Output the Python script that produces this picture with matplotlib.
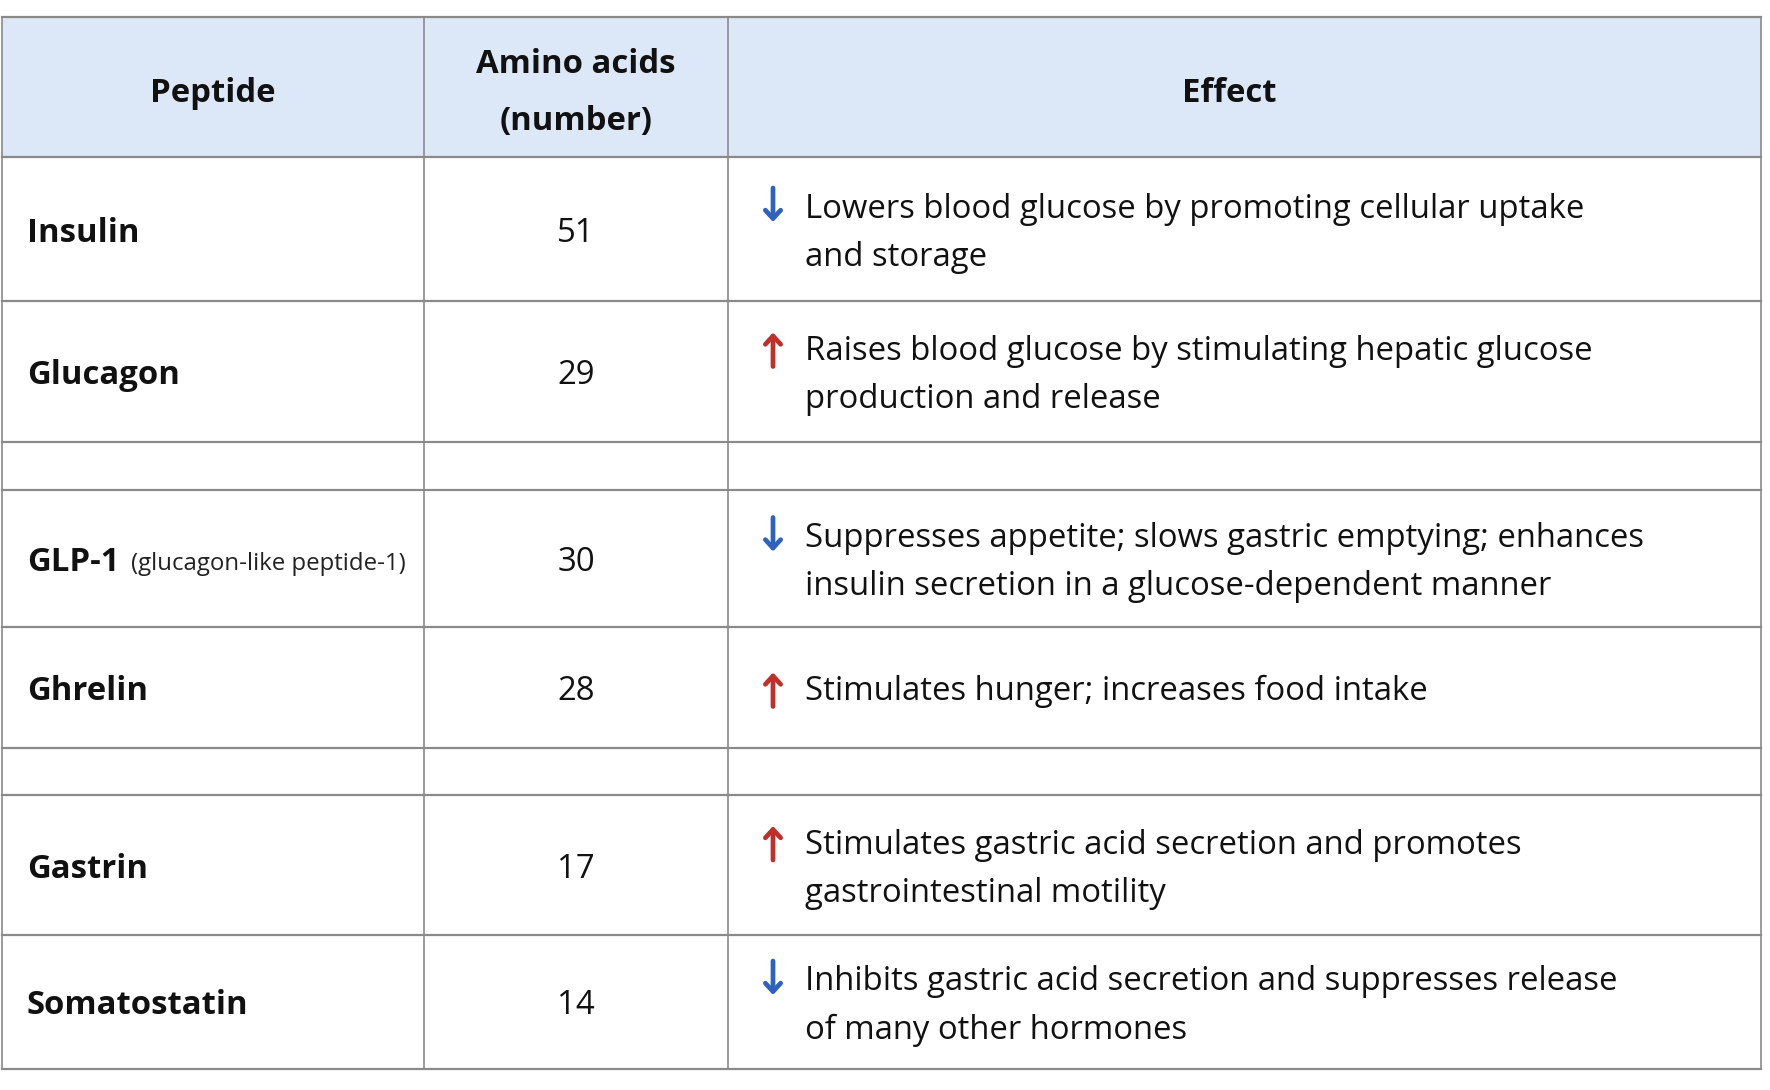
import matplotlib
matplotlib.use("Agg")
import matplotlib.pyplot as plt
from matplotlib.patches import Rectangle

plt.rcParams['font.family'] = ['Open Sans', 'DejaVu Sans']

# table content
headers = ["Peptide", "Amino acids\n(number)", "Effect"]
peptides = ["Insulin", "Glucagon", "", "GLP-1", "Ghrelin", "", "Gastrin", "Somatostatin"]
peptide_notes = ["", "", "", "(glucagon-like peptide-1)", "", "", "", ""]
amino_acids = ["51", "29", "", "30", "28", "", "17", "14"]
directions = ["down", "up", "", "down", "up", "", "up", "down"]
effects = [
    "Lowers blood glucose by promoting cellular uptake\nand storage",
    "Raises blood glucose by stimulating hepatic glucose\nproduction and release",
    "",
    "Suppresses appetite; slows gastric emptying; enhances\ninsulin secretion in a glucose-dependent manner",
    "Stimulates hunger; increases food intake",
    "",
    "Stimulates gastric acid secretion and promotes\ngastrointestinal motility",
    "Inhibits gastric acid secretion and suppresses release\nof many other hormones",
]

# layout (pixels)
W, H = 1770, 1090
col_x = [2, 424, 728, 1761]
row_y = [17, 157, 301, 442, 490, 627, 748, 795, 935, 1069]
header_shift = [0, 0, -15]
header_bg = "#dce8f8"
line_col = "#8a8a8a"
arrow_col = {"down": "#2f62bf", "up": "#c0302b"}
fs = 23.7
dy = 4  # small downward nudge of body text

fig = plt.figure(figsize=(W / 100, H / 100), dpi=100)
ax = fig.add_axes([0, 0, 1, 1])
ax.set_xlim(0, W)
ax.set_ylim(H, 0)
ax.axis("off")

# header
ax.add_patch(Rectangle((col_x[0], row_y[0]), col_x[-1] - col_x[0], row_y[1] - row_y[0],
                       facecolor=header_bg, edgecolor="none", zorder=0))
hy = (row_y[0] + row_y[1]) / 2 + 2
for i, h in enumerate(headers):
    cx = (col_x[i] + col_x[i + 1]) / 2 + header_shift[i]
    parts = h.split("\n")
    hstep = 57
    y0 = hy - hstep * (len(parts) - 1) / 2
    for k, p in enumerate(parts):
        ax.text(cx, y0 + k * hstep, p, ha="center", va="center_baseline", fontsize=fs,
                fontweight="bold", color="#111111")

# body rows
for r in range(len(peptides)):
    top, bot = row_y[r + 1], row_y[r + 2]
    cy = (top + bot) / 2 + dy
    if peptides[r]:
        t = ax.text(col_x[0] + 25, cy, peptides[r], ha="left", va="center",
                    fontsize=fs, fontweight="bold", color="#111111")
        if peptide_notes[r]:
            fig.canvas.draw()
            bb = t.get_window_extent()
            ax.text(bb.x1 + 12, cy + 1, peptide_notes[r], ha="left", va="center",
                    fontsize=fs * 0.73, color="#222222")
    if amino_acids[r]:
        ax.text((col_x[1] + col_x[2]) / 2, cy, amino_acids[r], ha="center", va="center",
                fontsize=fs, color="#111111")
    if effects[r]:
        lines = effects[r].split("\n")
        step = 48
        y0 = cy - step * (len(lines) - 1) / 2
        for k, ln in enumerate(lines):
            ax.text(col_x[2] + 77, y0 + k * step, ln, ha="left", va="center",
                    fontsize=fs, color="#111111")
        ax_x = col_x[2] + 45
        if directions[r] == "down":
            start, end = (ax_x, y0 - 21), (ax_x, y0 + 13)
        else:
            start, end = (ax_x, y0 + 15), (ax_x, y0 - 19)
        ax.annotate("", xy=end, xytext=start,
                    arrowprops=dict(arrowstyle="->,head_width=0.55,head_length=0.6",
                                    color=arrow_col[directions[r]], lw=3.4,
                                    shrinkA=0, shrinkB=0))

# grid lines
for y in row_y:
    ax.plot([col_x[0], col_x[-1]], [y, y], color=line_col, lw=1.6, zorder=3)
for x in col_x:
    ax.plot([x, x], [row_y[0], row_y[-1]], color=line_col, lw=1.2, zorder=3)

fig.savefig("out.png", dpi=100, facecolor="white")
